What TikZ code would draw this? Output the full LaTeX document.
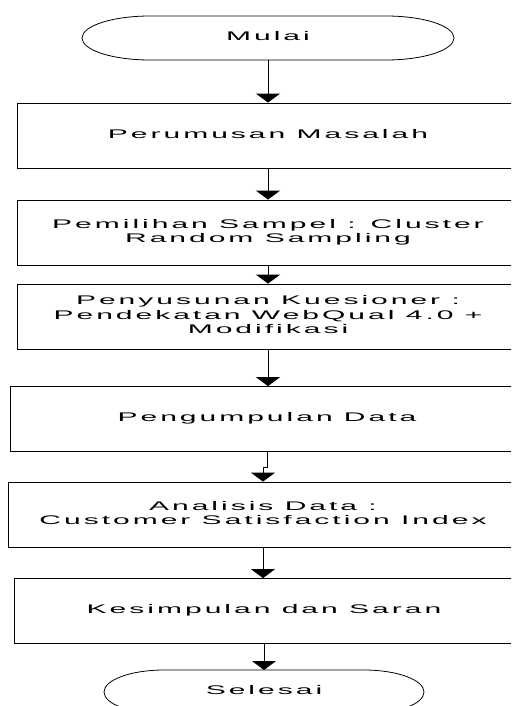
\documentclass[tikz,border=0pt]{standalone}
\usepackage{fontspec}
\newfontfamily\wf[LetterSpace=10]{Liberation Sans}
\usetikzlibrary{arrows.meta}
\newcommand\wtxt[1]{\scalebox{2.4}[1]{\begin{tabular}{@{}c@{}}#1\end{tabular}}}
\begin{document}
\begin{tikzpicture}[x=1pt,y=-1pt,
  box/.style={draw=black,line width=0.8pt,rectangle,minimum height=65pt,inner sep=0pt,align=center,font=\wf\fontsize{12.5}{14.5}\selectfont},
  term/.style={inner sep=0pt,font=\wf\fontsize{12.5}{14.5}\selectfont},
  arr/.style={draw=black,line width=0.9pt,-{Triangle[width=24pt,length=9pt]}}]
\useasboundingbox (0,0) rectangle (511,706);
\clip (0,0) rectangle (511,706);
% terminators
\draw[line width=0.8pt] (150,16) -- (386,16) arc[start angle=-90,end angle=90,x radius=68,y radius=22] -- (150,60) arc[start angle=90,end angle=270,x radius=68,y radius=22] -- cycle;
\node[term] (mulai) at (268,38) {\wtxt{Mulai}};
\coordinate (mulaiS) at (268,60);
\draw[line width=0.8pt] (164,670) -- (364,670) arc[start angle=-90,end angle=90,x radius=60,y radius=22] -- (164,714) arc[start angle=90,end angle=270,x radius=60,y radius=22] -- cycle;
\node[term] (selesai) at (264,692) {\wtxt{Selesai}};
\coordinate (selesaiN) at (264,670);
% boxes
\node[box,minimum width=502pt] (b1) at (268,135.5) {\wtxt{Perumusan Masalah}};
\node[box,minimum width=502pt] (b2) at (268,232.5) {\wtxt{Pemilihan Sampel : Cluster\\Random Sampling}};
\node[box,minimum width=502pt] (b3) at (268,316.5) {\wtxt{Penyusunan Kuesioner :\\Pendekatan WebQual 4.0 +\\Modifikasi}};
\node[box,minimum width=514pt] (b4) at (267,419) {\wtxt{Pengumpulan Data}};
\node[box,minimum width=510pt] (b5) at (263,514.5) {\wtxt{Analisis Data :\\Customer Satisfaction Index}};
\node[box,minimum width=500pt] (b6) at (264,611) {\wtxt{Kesimpulan dan Saran}};
% connectors
\draw[arr] (mulaiS) -- (b1.north);
\draw[arr] (b1.south) -- (b2.north);
\draw[arr] (b2.south) -- (b3.north);
\draw[arr] (b3.south) -- (b3.south |- b4.north);
\draw[arr] (b4.south) -- ++(0,16) -| (b5.north);
\draw[arr] (b5.south) -- (b5.south |- b6.north);
\draw[arr] (b6.south) -- (selesaiN);
\end{tikzpicture}
\end{document}
